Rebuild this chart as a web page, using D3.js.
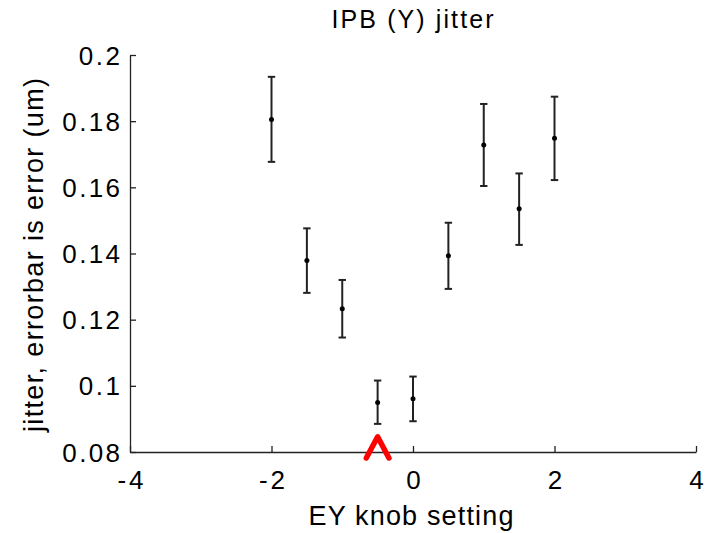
<!DOCTYPE html>
<html><head><meta charset="utf-8">
<script src="https://cdn.jsdelivr.net/npm/d3@7"></script>
<style>body{margin:0;background:#fff}svg{display:block}text{font-family:"Liberation Sans",Arial,sans-serif}</style>
</head><body>
<script>
const knob = [-2, -1.5, -1, -0.5, 0, 0.5, 1, 1.5, 2];
const jitter = [0.1805, 0.1379, 0.1233, 0.0950, 0.0961, 0.1393, 0.1728, 0.1535, 0.1748];
const errLow = [0.1677, 0.1281, 0.1146, 0.0885, 0.0893, 0.1293, 0.1604, 0.1426, 0.1622];
const errHigh = [0.1934, 0.1476, 0.1320, 0.1016, 0.1028, 0.1493, 0.1852, 0.1642, 0.1874];
const xTicks = [-4, -2, 0, 2, 4];
const yTicks = [0.08, 0.1, 0.12, 0.14, 0.16, 0.18, 0.2];
const marker = {x: -0.5, tip: 0.0846, base: 0.0782, half: 0.16};

const W = 711, H = 533;
const m = {l: 130, r: 15, t: 55, b: 81};
const FONT = '"Liberation Sans",Arial,sans-serif';
const svg = d3.select("body").append("svg").attr("width", W).attr("height", H);
const x = d3.scaleLinear().domain([-4, 4]).range([m.l, W - m.r]);
const y = d3.scaleLinear().domain([0.08, 0.2]).range([H - m.b, m.t]);

const fmtY = d => String(+d.toFixed(2));
const fmtX = d => String(d);

function widen(sel, factor) {
  sel.each(function() {
    const n = this.getComputedTextLength();
    d3.select(this).attr("textLength", n * factor).attr("lengthAdjust", "spacing");
  });
}

const gx = svg.append("g").attr("transform", `translate(0,${H - m.b})`)
  .call(d3.axisBottom(x).tickValues(xTicks).tickFormat(fmtX).tickSizeInner(-6).tickSizeOuter(0).tickPadding(0));
const gy = svg.append("g").attr("transform", `translate(${m.l},0)`)
  .call(d3.axisLeft(y).tickValues(yTicks).tickFormat(fmtY).tickSizeInner(-6).tickSizeOuter(0).tickPadding(10));
[gx, gy].forEach(g => {
  g.select(".domain").attr("stroke", "#222").attr("stroke-width", 1.3);
  g.selectAll(".tick line").attr("stroke", "#222").attr("stroke-width", 1.3);
  g.selectAll("text").attr("font-size", 26).attr("fill", "#000").attr("font-family", FONT);
});
gx.selectAll("text").attr("y", 36.5).attr("dy", 0);
gy.selectAll("text").attr("dy", "0.35em");
widen(gx.selectAll("text"), 1.12);
widen(gy.selectAll("text"), 1.14);

const data = knob.map((k, i) => ({k, v: jitter[i], lo: errLow[i], hi: errHigh[i]}));
const eb = svg.append("g").attr("stroke", "#222").attr("stroke-width", 2);
eb.selectAll("line.v").data(data).join("line")
  .attr("x1", d => x(d.k)).attr("x2", d => x(d.k))
  .attr("y1", d => y(d.lo)).attr("y2", d => y(d.hi));
eb.selectAll("line.t").data(data).join("line")
  .attr("x1", d => x(d.k) - 3.7).attr("x2", d => x(d.k) + 3.7)
  .attr("y1", d => y(d.hi)).attr("y2", d => y(d.hi));
eb.selectAll("line.b").data(data).join("line")
  .attr("x1", d => x(d.k) - 3.7).attr("x2", d => x(d.k) + 3.7)
  .attr("y1", d => y(d.lo)).attr("y2", d => y(d.lo));
svg.append("g").selectAll("circle").data(data).join("circle")
  .attr("cx", d => x(d.k)).attr("cy", d => y(d.v)).attr("r", 2.5).attr("fill", "#000");

svg.append("path")
  .attr("d", d3.line()([[x(marker.x - marker.half), y(marker.base)], [x(marker.x), y(marker.tip)], [x(marker.x + marker.half), y(marker.base)]]))
  .attr("fill", "none").attr("stroke", "#ff0000").attr("stroke-width", 5.5)
  .attr("stroke-linecap", "round").attr("stroke-linejoin", "round");

svg.append("text").attr("x", 412.5).attr("y", 28).attr("text-anchor", "middle")
  .attr("font-size", 25).attr("textLength", 162).attr("lengthAdjust", "spacing").text("IPB (Y) jitter");
svg.append("text").attr("x", 411).attr("y", 525).attr("text-anchor", "middle")
  .attr("font-size", 27).attr("textLength", 205).attr("lengthAdjust", "spacing").text("EY knob setting");
svg.append("text").attr("transform", `translate(43,255) rotate(-90)`)
  .attr("text-anchor", "middle").attr("font-size", 27).attr("textLength", 354).attr("lengthAdjust", "spacing")
  .text("jitter, errorbar is error (um)");
</script>
</body></html>
